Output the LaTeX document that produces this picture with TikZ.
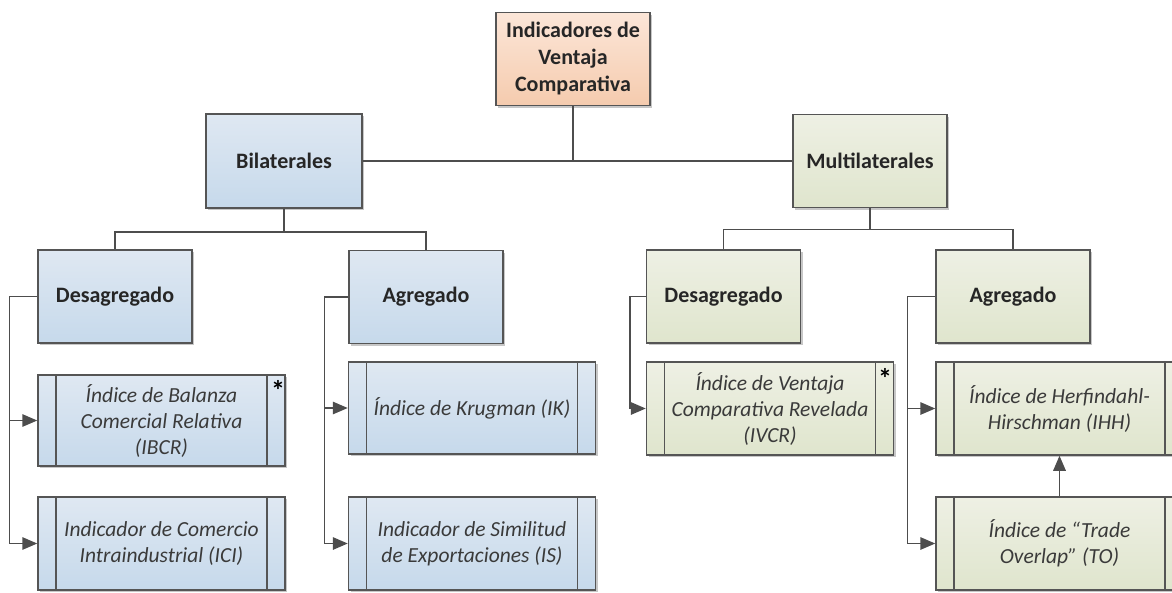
\documentclass[tikz,border=0pt]{standalone}
\usepackage{fontspec}
\setmainfont{Carlito}
\usetikzlibrary{arrows.meta,shadows,calc}
\definecolor{bordc}{HTML}{555555}
\definecolor{linec}{HTML}{4D4D4D}
\definecolor{bluetop}{HTML}{DFE8F2}
\definecolor{bluebot}{HTML}{C6D9EB}
\definecolor{greentop}{HTML}{EEF0E4}
\definecolor{greenbot}{HTML}{DFE5CD}
\definecolor{orangetop}{HTML}{FCE6D8}
\definecolor{orangebot}{HTML}{F5CBAE}
\definecolor{txt}{HTML}{262626}
\definecolor{txtb}{HTML}{3A3A3A}
\tikzset{
  box/.style={draw=bordc, line width=1.5pt, inner sep=0pt,
    drop shadow={shadow xshift=2pt, shadow yshift=-2pt, opacity=0.22, fill=black}},
  hdr/.style={box, minimum width=154pt, minimum height=93pt, align=center,
    text=txt, font=\bfseries\fontsize{22}{27}\selectfont},
  leaf/.style={box, minimum width=247pt, minimum height=92pt,
    align=center, text=txtb, font=\itshape\fontsize{21.5}{26}\selectfont,
    path picture={\draw[draw=bordc, line width=1.5pt]
      ([xshift=18pt]path picture bounding box.north west) -- ([xshift=18pt]path picture bounding box.south west)
      ([xshift=-18pt]path picture bounding box.north east) -- ([xshift=-18pt]path picture bounding box.south east);}},
  blue/.style={top color=bluetop, bottom color=bluebot},
  green/.style={top color=greentop, bottom color=greenbot},
  orange/.style={top color=orangetop, bottom color=orangebot},
  con/.style={draw=linec, line width=1.5pt},
  arr/.style={con, -{Triangle[length=15pt,width=12.5pt]}},
  star/.style={inner sep=0pt, text=black, font=\bfseries\fontsize{28}{28}\selectfont}
}
\begin{document}
\begin{tikzpicture}[x=1pt,y=-1pt]
\clip (0,0) rectangle (1172,592);
\fill[white] (0,0) rectangle (1172,592);
% level 0
\node[hdr, orange] (top) at (573,59) {Indicadores de\\Ventaja\\Comparativa};
% level 1
\node[hdr, blue, minimum width=156pt, minimum height=94pt] (bil) at (284,161) {Bilaterales};
\node[hdr, green] (mul) at (870,161) {Multilaterales};
% level 2
\node[hdr, blue] (desL) at (115,296.5) {Desagregado};
\node[hdr, blue] (agL) at (426,297) {Agregado};
\node[hdr, green] (desR) at (723.5,296.5) {Desagregado};
\node[hdr, green] (agR) at (1013,296.5) {Agregado};
% leaves
\node[leaf, blue, minimum height=91pt] (ibcr) at (161.5,420.5) {Índice de Balanza\\Comercial Relativa\\(IBCR)};
\node[leaf, blue, minimum height=93pt] (ici) at (161.5,543.5) {Indicador de Comercio\\Intraindustrial (ICI)};
\node[leaf, blue] (ik) at (472,408) {Índice de Krugman (IK)};
\node[leaf, blue, minimum height=93pt] (is) at (472,543.5) {Indicador de Similitud\\de Exportaciones (IS)};
\node[leaf, green, minimum height=93pt] (ivcr) at (770,408.5) {Índice de Ventaja\\Comparativa Revelada\\(IVCR)};
\node[leaf, green, minimum height=93pt] (ihh) at (1059.5,408.5) {Índice de Herfindahl-\\Hirschman (IHH)};
\node[leaf, green, minimum height=93pt] (to) at (1059.5,543.5) {Índice de “Trade\\Overlap” (TO)};
% asterisks
\node[star] (s1) at (278,390) {*};
\node[star] (s2) at (885,378) {*};
% connectors
\draw[con] (bil.east) -- (mul.west);
\draw[con] (top.south) -- (top.south |- bil.east);
\draw[con] (bil.south) -- ++(0,23) -| (desL.north);
\draw[con] (bil.south) -- ++(0,23) -| (agL.north);
\draw[con] (mul.south) -- ++(0,21) -| (desR.north);
\draw[con] (mul.south) -- ++(0,21) -| (agR.north);
\coordinate (cl) at ($(desL.west)+(-28,0)$);
\coordinate (ca) at ($(agL.west)+(-24,0)$);
\coordinate (cr) at ($(desR.west)+(-16,0)$);
\coordinate (cg) at ($(agR.west)+(-28,0)$);
\draw[arr] (desL.west) -- (cl) |- (ici.west);
\draw[arr] (cl |- ibcr.west) -- (ibcr.west);
\draw[arr] (agL.west) -- (ca) |- (is.west);
\draw[arr] (ca |- ik.west) -- (ik.west);
\draw[arr] (desR.west) -- (cr) |- (ivcr.west);
\draw[arr] (agR.west) -- (cg) |- (to.west);
\draw[arr] (cg |- ihh.west) -- (ihh.west);
\draw[arr] (to.north -| ihh.south) -- (ihh.south);
\end{tikzpicture}
\end{document}
